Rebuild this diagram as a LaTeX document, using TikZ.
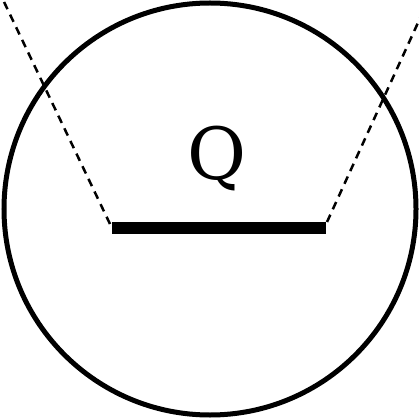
\documentclass[tikz,border=0pt]{standalone}
\usepackage{fontspec}
\setmainfont{DejaVu Serif}
\begin{document}
\begin{tikzpicture}[x=1pt,y=-1pt,
  ring/.style={line width=5pt},
  bar/.style={line width=12pt},
  guide/.style={line width=2.5pt,dash pattern=on 8pt off 6pt}]
\useasboundingbox (0,0) rectangle (419,419);
\clip (0,0) rectangle (419,419);
\node[circle,draw,ring,minimum size=412pt,inner sep=0pt] (c) at (210,209) {};
\coordinate (bl) at (112,228);
\coordinate (br) at (326,228);
\coordinate (tl) at (-5,-17);
\coordinate (tr) at (427,3);
\draw[guide] (110,224) -- (tl);
\draw[guide] (327,222) -- (tr);
\draw[bar] (bl) -- (br);
\node[font=\fontsize{72}{72}\selectfont,inner sep=0pt,anchor=base] (q) at (217,180) {Q};
\end{tikzpicture}
\end{document}
